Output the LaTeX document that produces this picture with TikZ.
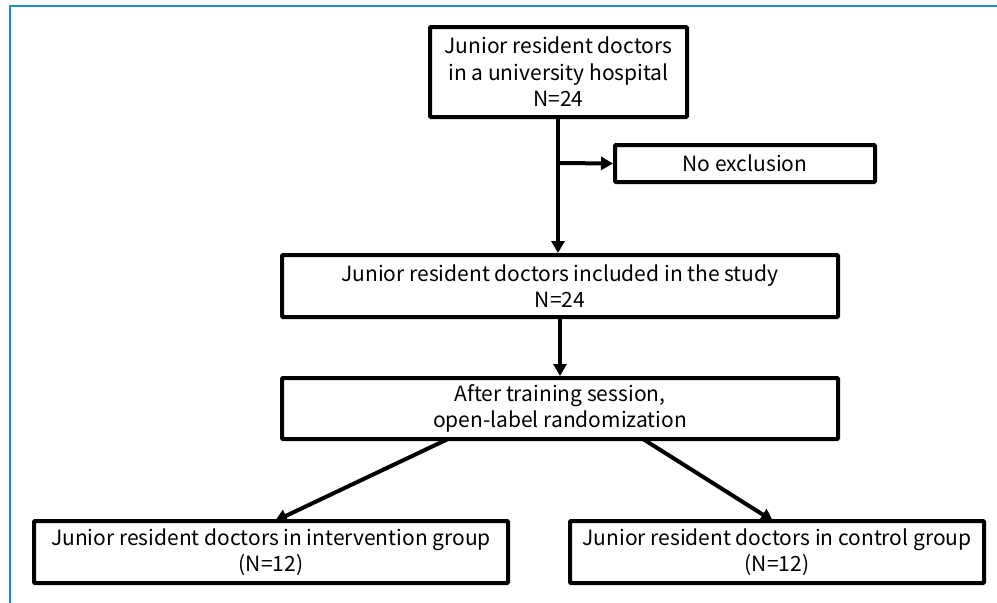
\documentclass[tikz,border=0pt]{standalone}
\usepackage{fontspec}
\setmainfont{Noto Sans CJK JP}
\usetikzlibrary{arrows.meta}
\definecolor{frameblue}{RGB}{30,144,200}
\tikzset{
  box/.style={draw=black, line width=4pt, rounded corners=1pt, fill=white, align=center,
    font=\fontsize{21}{26.5}\selectfont, inner sep=0pt},
  conn/.style={line width=4pt, -{Triangle[length=12pt,width=13pt]}},
}
\begin{document}
\begin{tikzpicture}[x=1pt,y=-1pt]
\useasboundingbox (0,0) rectangle (997,603);
\fill[white] (0,0) rectangle (997,603);
\draw[frameblue, line width=2.2pt] (10,603) -- (10,6) -- (997,6);
\node[box, minimum width=257pt, minimum height=90pt] (top) at (558.5,72) {Junior resident doctors\\in a university hospital\\N=24};
\node[box, minimum width=260pt, minimum height=37pt] (noex) at (745,163.5) {No exclusion};
\node[box, minimum width=556pt, minimum height=62pt] (incl) at (560,286) {Junior resident doctors included in the study\\N=24};
\node[box, minimum width=556pt, minimum height=61pt] (rand) at (560,408.5) {After training session,\\open-label randomization};
\node[box, minimum width=474pt, minimum height=62pt] (inter) at (271,552) {Junior resident doctors in intervention group\\(N=12)};
\node[box, minimum width=414pt, minimum height=62pt] (ctrl) at (777,552) {Junior resident doctors in control group\\(N=12)};
\coordinate (br) at (558,163);
\draw[conn] (top.south -| br) -- (incl.north -| br);
\draw[conn] (br) -- (noex.west);
\draw[conn] (incl.south) -- (rand.north);
\coordinate (la) at (448,439);
\coordinate (lb) at (275,521);
\coordinate (ra) at (643,439);
\coordinate (rb) at (773,521);
\draw[conn] (la) -- (lb);
\draw[conn] (ra) -- (rb);
\end{tikzpicture}
\end{document}
